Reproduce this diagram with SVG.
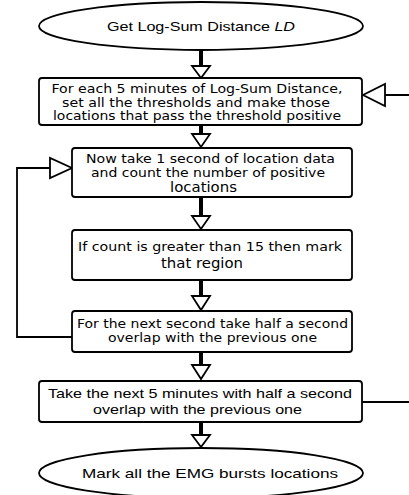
<svg xmlns="http://www.w3.org/2000/svg" width="409" height="495" viewBox="0 0 409 495">
<style>
.node{fill:#fff;stroke:#000;stroke-width:1.8}
.a{font-family:"Liberation Sans",Arial,sans-serif;font-size:13px;fill:#000;text-anchor:middle}
.v{font-family:"DejaVu Sans",Verdana,sans-serif;font-size:12px;fill:#000;text-anchor:middle}
.vl{font-family:"DejaVu Sans",Verdana,sans-serif;font-size:13.5px;fill:#000;text-anchor:middle}
.shaft{stroke:#000;stroke-width:4;fill:none}
.head{fill:#fff;stroke:#000;stroke-width:1.8;stroke-linejoin:miter}
.line{fill:none;stroke:#000;stroke-width:1.8}
</style>
<rect width="409" height="495" fill="#fff"/>
<g id="connectors">
  <line class="shaft" x1="201" y1="50" x2="201" y2="66"/>
  <polygon class="head" points="192,66 210,66 201,78"/>
  <line class="shaft" x1="201" y1="125" x2="201" y2="134"/>
  <polygon class="head" points="192,134 210,134 201,147"/>
  <line class="shaft" x1="201" y1="197" x2="201" y2="216"/>
  <polygon class="head" points="192,216 210,216 201,229"/>
  <line class="shaft" x1="201" y1="280" x2="201" y2="296"/>
  <polygon class="head" points="192,296 210,296 201,310"/>
  <line class="shaft" x1="201" y1="352" x2="201" y2="365"/>
  <polygon class="head" points="192,365 210,365 201,379"/>
  <line class="shaft" x1="201" y1="422" x2="201" y2="435"/>
  <polygon class="head" points="192,435 210,435 201,447"/>
  <polyline class="line" points="72,337 17,337 17,168 50,168"/>
  <polygon class="head" points="50,158 50,178 72,168"/>
  <polyline class="line" points="362,402 415,402 415,95 385,95"/>
  <polygon class="head" points="385,84 385,106 363,95"/>
</g>
<g id="start">
  <ellipse class="node" cx="201" cy="26" rx="162" ry="24"/>
  <text class="a" x="201" y="31" font-size="14" textLength="188" lengthAdjust="spacingAndGlyphs">Get Log-Sum Distance <tspan font-style="italic">LD</tspan></text>
</g>
<g id="thresholds">
  <rect class="node" x="39" y="78" width="323" height="47" rx="3"/>
  <text class="v" x="197" y="93" textLength="291" lengthAdjust="spacingAndGlyphs">For each 5 minutes of Log-Sum Distance,</text>
  <text class="v" x="196" y="107" textLength="268" lengthAdjust="spacingAndGlyphs">set all the thresholds and make those</text>
  <text class="v" x="197" y="120" textLength="288" lengthAdjust="spacingAndGlyphs">locations that pass the threshold positive</text>
</g>
<g id="take-second">
  <rect class="node" x="72" y="148" width="280" height="49" rx="3"/>
  <text class="v" x="210.5" y="163" textLength="249" lengthAdjust="spacingAndGlyphs">Now take 1 second of location data</text>
  <text class="v" x="208" y="177" textLength="234" lengthAdjust="spacingAndGlyphs">and count the number of positive</text>
  <text class="vl" x="203.5" y="192" textLength="67" lengthAdjust="spacingAndGlyphs">locations</text>
</g>
<g id="mark-region">
  <rect class="node" x="72" y="230" width="280" height="50" rx="3"/>
  <text class="v" x="210" y="251" textLength="264" lengthAdjust="spacingAndGlyphs">If count is greater than 15 then mark</text>
  <text class="vl" x="202" y="268" textLength="82" lengthAdjust="spacingAndGlyphs">that region</text>
</g>
<g id="next-second">
  <rect class="node" x="72" y="311" width="280" height="41" rx="3"/>
  <text class="v" x="212.5" y="328" textLength="271" lengthAdjust="spacingAndGlyphs">For the next second take half a second</text>
  <text class="v" x="212.5" y="342" textLength="209" lengthAdjust="spacingAndGlyphs">overlap with the previous one</text>
</g>
<g id="next-minutes">
  <rect class="node" x="39" y="381" width="323" height="41" rx="3"/>
  <text class="a" x="200" y="398" textLength="304" lengthAdjust="spacingAndGlyphs">Take the next 5 minutes with half a second</text>
  <text class="a" x="197.5" y="414" textLength="209" lengthAdjust="spacingAndGlyphs">overlap with the previous one</text>
</g>
<g id="end">
  <ellipse class="node" cx="201" cy="473" rx="162" ry="25"/>
  <text class="a" x="210" y="478" font-size="14" textLength="256" lengthAdjust="spacingAndGlyphs">Mark all the EMG bursts locations</text>
</g>
</svg>
